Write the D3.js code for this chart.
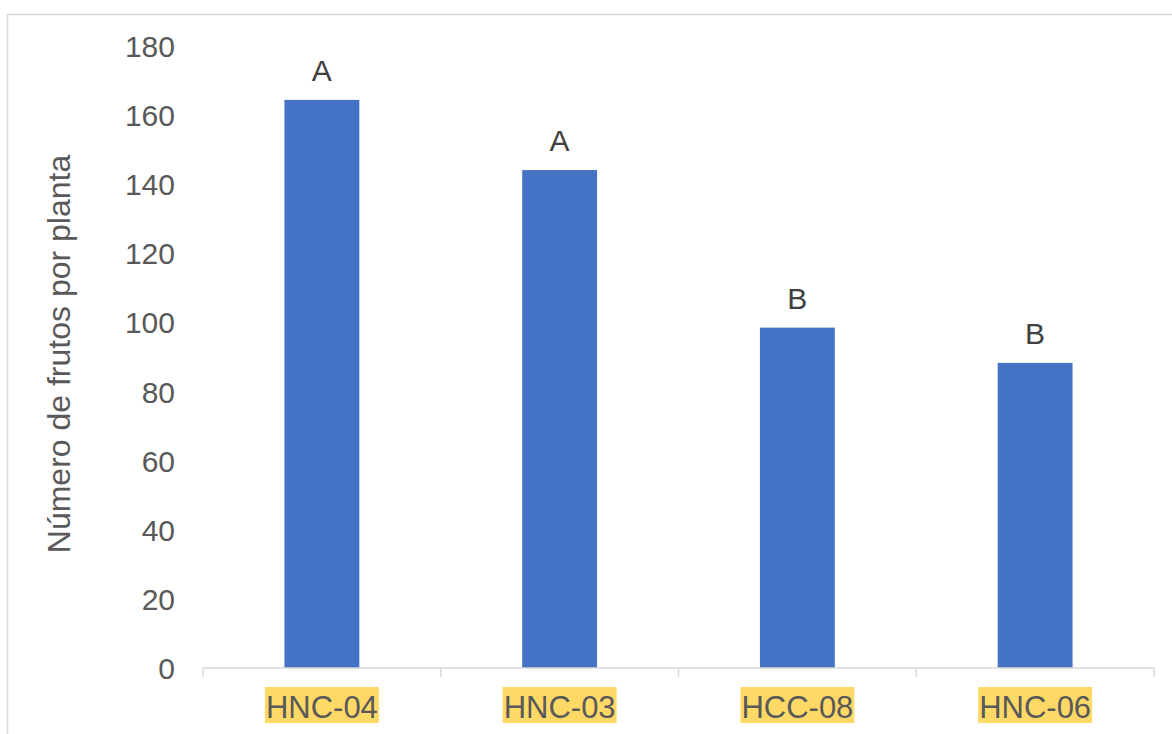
<!DOCTYPE html>
<html>
<head>
<meta charset="utf-8">
<script src="https://cdn.jsdelivr.net/npm/d3@7"></script>
<style>
  html, body { margin: 0; padding: 0; background: #fff; }
  svg { display: block; font-family: "Liberation Sans", Arial, sans-serif; }
</style>
</head>
<body>
<svg id="chart" width="1172" height="734"></svg>
<script>
const categories = ["HNC-04", "HNC-03", "HCC-08", "HNC-06"];
const values = [164.4, 144.1, 98.5, 88.3];
const letters = ["A", "A", "B", "B"];
const yTicks = [0, 20, 40, 60, 80, 100, 120, 140, 160, 180];
const yTitle = "Número de frutos por planta";

const svg = d3.select("#chart");
const W = 1172, H = 734;
const margin = { left: 203, right: 1172 - 1154, top: 46, bottom: 734 - 668 };

// outer chart border
svg.append("rect")
  .attr("x", 7.5).attr("y", 14.5)
  .attr("width", W + 10).attr("height", H + 10)
  .attr("fill", "none").attr("stroke", "#d9d9d9").attr("stroke-width", 1.5);

const x = d3.scaleBand()
  .domain(categories)
  .range([203, 1154])
  .paddingInner(0.685)
  .paddingOuter(0.3425);

const y = d3.scaleLinear().domain([0, 180]).range([668, 46]);

// bars
svg.append("g").selectAll("rect")
  .data(categories)
  .join("rect")
  .attr("x", d => x(d))
  .attr("width", x.bandwidth())
  .attr("y", (d, i) => y(values[i]))
  .attr("height", (d, i) => y(0) - y(values[i]))
  .attr("fill", "#4472C4");

// significance letters
svg.append("g").selectAll("text")
  .data(categories)
  .join("text")
  .attr("x", d => x(d) + x.bandwidth() / 2)
  .attr("y", (d, i) => y(values[i]) - 19)
  .attr("text-anchor", "middle")
  .attr("font-size", 30)
  .attr("fill", "#404040")
  .text((d, i) => letters[i]);

// y axis (labels only)
const yAxis = d3.axisLeft(y).tickValues(yTicks).tickSize(0).tickPadding(0);
const gy = svg.append("g").attr("transform", "translate(175,0)").call(yAxis);
gy.select(".domain").remove();
gy.selectAll("text")
  .attr("font-size", 30)
  .attr("font-family", "Liberation Sans, Arial, sans-serif")
  .attr("fill", "#595959")
  .attr("dy", "0.35em");

// x axis
const xOuter = d3.scalePoint().domain(d3.range(categories.length + 1)).range([203, 1154]);
const gx = svg.append("g");
gx.append("line")
  .attr("x1", 203).attr("x2", 1154)
  .attr("y1", 668).attr("y2", 668)
  .attr("stroke", "#d9d9d9").attr("stroke-width", 1.5);
gx.selectAll("line.tick")
  .data(xOuter.domain())
  .join("line")
  .attr("class", "tick")
  .attr("x1", d => xOuter(d)).attr("x2", d => xOuter(d))
  .attr("y1", 668).attr("y2", 677)
  .attr("stroke", "#d9d9d9").attr("stroke-width", 1.5);

const labelG = gx.selectAll("g.xl")
  .data(categories)
  .join("g")
  .attr("class", "xl");
const labelTexts = labelG.append("text")
  .attr("x", d => x(d) + x.bandwidth() / 2)
  .attr("y", 718)
  .attr("text-anchor", "middle")
  .attr("font-size", 31)
  .attr("fill", "#595959")
  .text(d => d);
labelG.each(function() {
  const t = d3.select(this).select("text");
  const bb = t.node().getBBox();
  d3.select(this).insert("rect", "text")
    .attr("x", bb.x - 1).attr("y", 687)
    .attr("width", bb.width + 2).attr("height", 36)
    .attr("fill", "#FFD966");
});

// y title
svg.append("text")
  .attr("transform", "translate(70,354) rotate(-90)")
  .attr("text-anchor", "middle")
  .attr("font-size", 32)
  .attr("fill", "#595959")
  .text(yTitle);
</script>
</body>
</html>
